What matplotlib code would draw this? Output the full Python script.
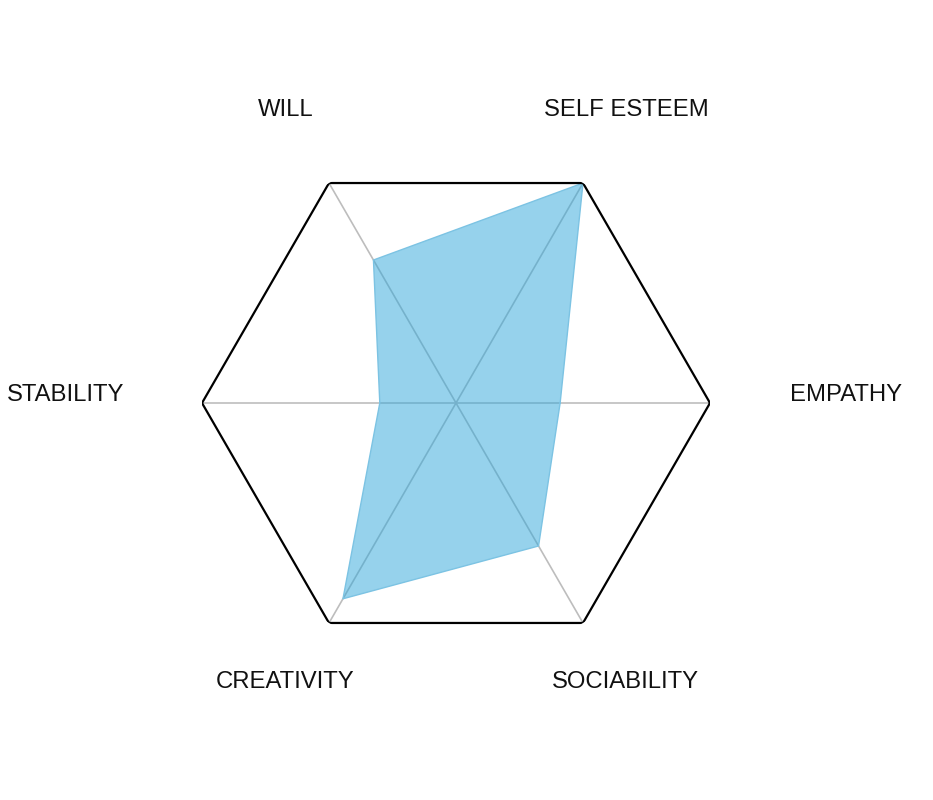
import numpy as np
import matplotlib
matplotlib.use("Agg")
import matplotlib.pyplot as plt

categories = ["EMPATHY", "SELF ESTEEM", "WILL", "STABILITY", "CREATIVITY", "SOCIABILITY"]
values = [41, 100, 65, 30, 89, 65]
max_value = 100

# label offsets in pixels from each axis end (style only)
label_offsets = [(80, 8), (43, 73), (-43, 73), (-78, 8), (-44, -59), (42, -59)]
label_ha = ["left", "center", "center", "right", "center", "center"]

W, H = 933, 800
fig = plt.figure(figsize=(W / 100, H / 100), dpi=100)
cx, cy, R = 456, 403, 254
ax = fig.add_axes([(cx - R) / W, (H - cy - R) / H, 2 * R / W, 2 * R / H], projection="polar")
ax.set_ylim(0, max_value)
ax.set_theta_offset(0)
ax.grid(False)
ax.set_xticks([])
ax.set_yticks([])
ax.spines["polar"].set_visible(False)
ax.patch.set_alpha(0)

n = len(categories)
angles = np.arange(n) * 2 * np.pi / n

# spokes
for a in angles:
    ax.plot([a, a], [0, max_value], color="#bdbdbd", lw=1.2, zorder=1)

# outer hexagon
ang_c = np.append(angles, angles[0])
ax.plot(ang_c, [max_value] * (n + 1), color="black", lw=1.6, zorder=3, solid_joinstyle="miter")

# data polygon
vals_c = np.append(values, values[0])
ax.fill(ang_c, vals_c, color="#2fa7da", alpha=0.5, zorder=2, lw=0)
ax.plot(ang_c, vals_c, color="#7cc3e3", lw=1.0, zorder=2)

for a, lab, off, ha in zip(angles, categories, label_offsets, label_ha):
    ax.annotate(lab, xy=(a, max_value), xytext=off, textcoords="offset pixels",
                ha=ha, va="center", fontsize=17.2, family="Liberation Sans",
                color="#111111", annotation_clip=False)

fig.savefig("out.png", dpi=100, facecolor="white")
